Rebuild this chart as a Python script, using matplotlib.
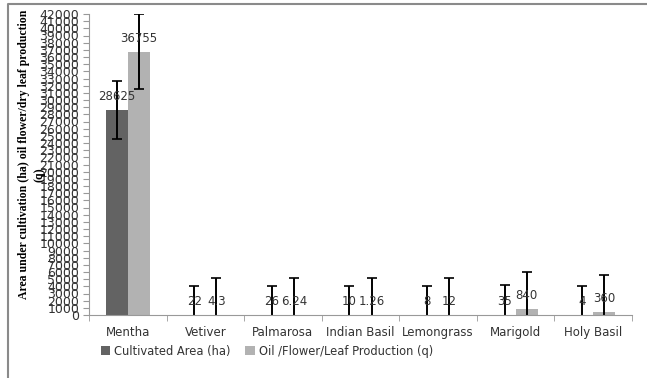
import matplotlib.pyplot as plt
import numpy as np
from matplotlib.lines import Line2D

crops = ["Mentha", "Vetiver", "Palmarosa", "Indian Basil", "Lemongrass", "Marigold", "Holy Basil"]
area = [28625, 22, 26, 10, 8, 35, 4]
production = [36755, 4.3, 6.24, 1.26, 12, 840, 360]
area_labels = ["28625", "22", "26", "10", "8", "35", "4"]
prod_labels = ["36755", "4.3", "6.24", "1.26", "12", "840", "360"]
area_err = 4090
prod_err = 5220


def main():
    fig = plt.figure(figsize=(6.47, 3.78), dpi=100)
    ax = fig.add_axes([89 / 647, 63 / 378, (632 - 89) / 647, (315 - 14) / 378])

    x = np.arange(len(crops))
    w = 0.286
    ax.bar(x - w / 2, area, w, color="#636363", label="Cultivated Area (ha)",
           yerr=area_err, error_kw=dict(ecolor="black", elinewidth=1.4, capsize=3.5, capthick=1.2))
    ax.bar(x + w / 2, production, w, color="#b2b2b2", label="Oil /Flower/Leaf Production (q)",
           yerr=prod_err, error_kw=dict(ecolor="black", elinewidth=1.4, capsize=3.5, capthick=1.2))

    for xi, v, t in zip(x - w / 2, area, area_labels):
        ax.annotate(t, (xi, v), xytext=(0, 5), textcoords="offset points",
                    ha="center", va="bottom", fontsize=8.5, color="#333333")
    for xi, v, t in zip(x + w / 2, production, prod_labels):
        ax.annotate(t, (xi, v), xytext=(0, 5), textcoords="offset points",
                    ha="center", va="bottom", fontsize=8.5, color="#333333")

    ax.set_xlim(-0.5, len(crops) - 0.5)
    ax.set_ylim(0, 42000)
    ax.set_yticks(np.arange(0, 42001, 1000))
    ax.set_yticklabels([str(v) for v in range(0, 42001, 1000)], fontsize=9, color="#333333")
    ax.set_xticks(x)
    ax.set_xticklabels(crops, fontsize=8.5, color="#333333")
    ax.set_xticks(np.arange(-0.5, len(crops)), minor=True)
    ax.tick_params(axis="x", which="major", length=0, pad=8)
    ax.tick_params(axis="x", which="minor", length=4, color="#999999")
    ax.tick_params(axis="y", length=4, color="#999999", pad=3)

    for s in ["top", "right"]:
        ax.spines[s].set_visible(False)
    ax.spines["left"].set_color("#999999")
    ax.spines["bottom"].set_color("#999999")

    # y label sits over the tick labels like in the original
    fig.text(24 / 647, 1 - 154 / 378, "Area under cultivation (ha) oil flower/dry leaf production",
             rotation=90, ha="center", va="center", family="Liberation Serif",
             fontweight="bold", fontsize=8.5)
    fig.text(39 / 647, 1 - 175 / 378, "(q)", rotation=90, ha="center", va="center",
             family="Liberation Serif", fontweight="bold", fontsize=8.5)

    ax.legend(loc="center left", bbox_to_anchor=(96 / 647, 27 / 378), bbox_transform=fig.transFigure,
              ncol=2, frameon=False, fontsize=8.3, handlelength=0.8, handleheight=0.8,
              handletextpad=0.35, columnspacing=1.3, borderaxespad=0, labelcolor="#333333")

    fig.add_artist(Line2D([8 / 647, 8 / 647, 1], [0, 1 - 4 / 378, 1 - 4 / 378],
                          color="#8a8a8a", linewidth=1.5))

    fig.savefig("out.png", dpi=100)


if __name__ == "__main__":
    main()
